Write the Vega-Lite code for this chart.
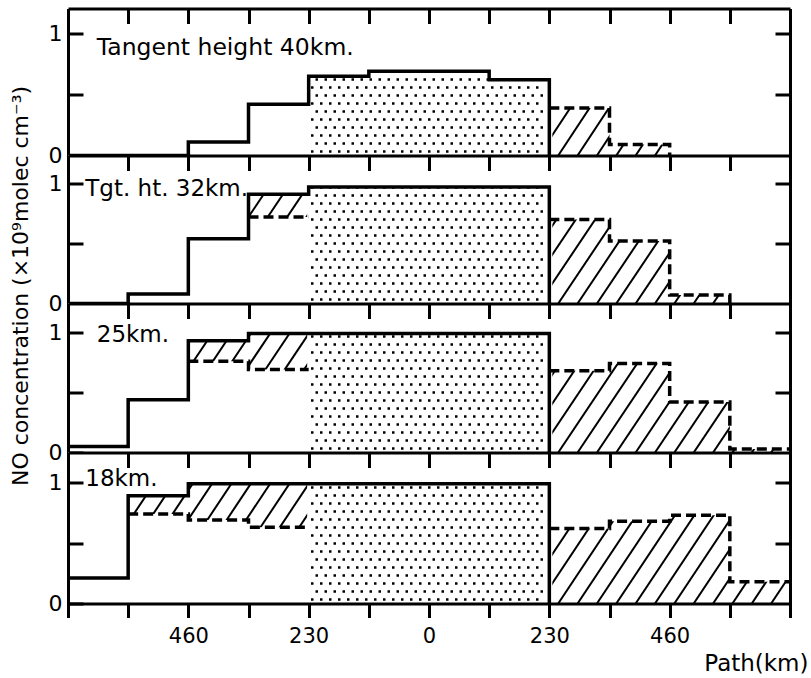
{
  "$schema": "https://vega.github.io/schema/vega-lite/v6.json",
  "autosize": {"type": "pad"},
  "padding": {"left": 9, "top": 6.5, "right": 3, "bottom": 5},
  "background": "white",
  "bounds": "flush",
  "spacing": 0,
  "config": {
    "font": "DejaVu Sans",
    "view": {"stroke": null},
    "axis": {"domainColor": "black", "tickColor": "black", "labelColor": "black", "titleColor": "black", "labelFont": "DejaVu Sans", "titleFont": "DejaVu Sans", "grid": false},
    "text": {"font": "DejaVu Sans"}
  },
  "datasets": {
    "hatch": [
      {"x": -900, "x2": -700}, {"x": -863, "x2": -663}, {"x": -826, "x2": -626}, {"x": -789, "x2": -589},
      {"x": -752, "x2": -552}, {"x": -715, "x2": -515}, {"x": -678, "x2": -478}, {"x": -641, "x2": -441},
      {"x": -604, "x2": -404}, {"x": -567, "x2": -367}, {"x": -530, "x2": -330}, {"x": -493, "x2": -293},
      {"x": -456, "x2": -256}, {"x": -419, "x2": -219}, {"x": -382, "x2": -182}, {"x": -345, "x2": -145},
      {"x": -308, "x2": -108}, {"x": -271, "x2": -71}, {"x": -234, "x2": -34}, {"x": -197, "x2": 3},
      {"x": -160, "x2": 40}, {"x": -123, "x2": 77}, {"x": -86, "x2": 114}, {"x": -49, "x2": 151},
      {"x": -12, "x2": 188}, {"x": 25, "x2": 225}, {"x": 62, "x2": 262}, {"x": 99, "x2": 299},
      {"x": 136, "x2": 336}, {"x": 173, "x2": 373}, {"x": 210, "x2": 410}, {"x": 247, "x2": 447},
      {"x": 284, "x2": 484}, {"x": 321, "x2": 521}, {"x": 358, "x2": 558}, {"x": 395, "x2": 595},
      {"x": 432, "x2": 632}, {"x": 469, "x2": 669}, {"x": 506, "x2": 706}, {"x": 543, "x2": 743},
      {"x": 580, "x2": 780}, {"x": 617, "x2": 817}, {"x": 654, "x2": 854}, {"x": 691, "x2": 891}
    ],
    "lower": [
      {"p": 1, "x": -690, "v": 0}, {"p": 1, "x": -575, "v": 0}, {"p": 1, "x": -460, "v": 0.11}, {"p": 1, "x": -345, "v": 0.42}, {"p": 1, "x": -230, "v": 0.42},
      {"p": 2, "x": -690, "v": 0}, {"p": 2, "x": -575, "v": 0.08}, {"p": 2, "x": -460, "v": 0.54}, {"p": 2, "x": -345, "v": 0.72}, {"p": 2, "x": -230, "v": 0.72},
      {"p": 3, "x": -690, "v": 0.05}, {"p": 3, "x": -575, "v": 0.44}, {"p": 3, "x": -460, "v": 0.76}, {"p": 3, "x": -345, "v": 0.69}, {"p": 3, "x": -230, "v": 0.69},
      {"p": 4, "x": -690, "v": 0.21}, {"p": 4, "x": -575, "v": 0.74}, {"p": 4, "x": -460, "v": 0.69}, {"p": 4, "x": -345, "v": 0.63}, {"p": 4, "x": -230, "v": 0.63}
    ],
    "solid": [
      {"p": 1, "x": -690, "v": 0}, {"p": 1, "x": -575, "v": 0}, {"p": 1, "x": -460, "v": 0.11}, {"p": 1, "x": -345, "v": 0.42}, {"p": 1, "x": -230, "v": 0.65}, {"p": 1, "x": -115, "v": 0.69}, {"p": 1, "x": 115, "v": 0.62}, {"p": 1, "x": 230, "v": 0},
      {"p": 2, "x": -690, "v": 0}, {"p": 2, "x": -575, "v": 0.08}, {"p": 2, "x": -460, "v": 0.54}, {"p": 2, "x": -345, "v": 0.91}, {"p": 2, "x": -230, "v": 0.97}, {"p": 2, "x": 230, "v": 0},
      {"p": 3, "x": -690, "v": 0.05}, {"p": 3, "x": -575, "v": 0.44}, {"p": 3, "x": -460, "v": 0.93}, {"p": 3, "x": -345, "v": 0.99}, {"p": 3, "x": -230, "v": 0.99}, {"p": 3, "x": 230, "v": 0},
      {"p": 4, "x": -690, "v": 0.21}, {"p": 4, "x": -575, "v": 0.89}, {"p": 4, "x": -460, "v": 0.99}, {"p": 4, "x": -345, "v": 0.99}, {"p": 4, "x": -230, "v": 0.99}, {"p": 4, "x": 230, "v": 0}
    ],
    "dash": [
      {"p": 1, "g": "R", "x": 230, "v": 0.39}, {"p": 1, "g": "R", "x": 345, "v": 0.09}, {"p": 1, "g": "R", "x": 460, "v": 0}, {"p": 1, "g": "R", "x": 690, "v": 0},
      {"p": 2, "g": "L", "x": -345, "v": 0.72}, {"p": 2, "g": "L", "x": -230, "v": 0.72},
      {"p": 2, "g": "R", "x": 230, "v": 0.7}, {"p": 2, "g": "R", "x": 345, "v": 0.52}, {"p": 2, "g": "R", "x": 460, "v": 0.07}, {"p": 2, "g": "R", "x": 575, "v": 0}, {"p": 2, "g": "R", "x": 690, "v": 0},
      {"p": 3, "g": "L", "x": -460, "v": 0.76}, {"p": 3, "g": "L", "x": -345, "v": 0.69}, {"p": 3, "g": "L", "x": -230, "v": 0.69},
      {"p": 3, "g": "R", "x": 230, "v": 0.68}, {"p": 3, "g": "R", "x": 345, "v": 0.74}, {"p": 3, "g": "R", "x": 460, "v": 0.42}, {"p": 3, "g": "R", "x": 575, "v": 0.03}, {"p": 3, "g": "R", "x": 690, "v": 0.03},
      {"p": 4, "g": "L", "x": -575, "v": 0.74}, {"p": 4, "g": "L", "x": -460, "v": 0.69}, {"p": 4, "g": "L", "x": -345, "v": 0.63}, {"p": 4, "g": "L", "x": -230, "v": 0.63},
      {"p": 4, "g": "R", "x": 230, "v": 0.62}, {"p": 4, "g": "R", "x": 345, "v": 0.68}, {"p": 4, "g": "R", "x": 460, "v": 0.73}, {"p": 4, "g": "R", "x": 575, "v": 0.18}, {"p": 4, "g": "R", "x": 690, "v": 0.18}
    ]
  },
  "vconcat": [
    {
      "width": 722, "height": 147,
      "resolve": {"axis": {"x": "independent", "y": "independent"}},
      "layer": [
        {"layer": [
          {"data": {"name": "hatch"}, "mark": {"type": "rule", "clip": true, "strokeWidth": 2, "color": "black"},
           "encoding": {
             "x": {"field": "x", "type": "quantitative", "scale": {"domain": [-690, 690], "nice": false, "zero": false},
                   "axis": {"orient": "top", "values": [-690, -575, -460, -345, -230, -115, 0, 115, 230, 345, 460, 575, 690], "labels": false, "tickSize": -15, "tickWidth": 3, "domainWidth": 3, "title": null, "zindex": 1}},
             "x2": {"field": "x2"},
             "y": {"datum": 0, "type": "quantitative", "scale": {"domain": [0, 1.205], "nice": false},
                   "axis": {"orient": "left", "values": [0, 0.5, 1], "tickSize": -15, "tickWidth": 3, "domainWidth": 3, "labelPadding": 21, "labelFontSize": 22, "labelExpr": "datum.value == 0.5 ? '' : format(datum.value, 'd')", "zindex": 1,
                            "title": "NO concentration (×10⁹molec cm⁻³)", "titleFontSize": 22, "titleFontWeight": "normal", "titleX": -48, "titleY": 277, "titleAngle": -90, "titleAlign": "center", "titleBaseline": "middle"}},
             "y2": {"datum": 1.3}}},
          {"data": {"name": "lower"}, "transform": [{"filter": "datum.p == 1"}], "mark": {"type": "area", "interpolate": "step-after", "fill": "white", "opacity": 1, "clip": true},
           "encoding": {"x": {"field": "x", "type": "quantitative"}, "y": {"field": "v", "type": "quantitative"}, "y2": {"datum": 0}}},
          {"data": {"values": [{}]}, "mark": {"type": "rect", "fill": "white", "clip": true},
           "encoding": {"x": {"datum": -230}, "x2": {"datum": 230}, "y": {"datum": 0}, "y2": {"datum": 1.3}}},
          {"data": {"values": [{}]}, "mark": {"type": "point", "shape": "M-118,-4H116M-113.5,-12H116M-118,-20H116M-113.5,-28H116M-118,-36H116M-113.5,-44H116M-118,-52H116M-113.5,-60H116M-118,-68H116M-113.5,-76H116M-118,-84H116M-113.5,-92H116M-118,-100H116M-113.5,-108H116M-118,-116H116M-113.5,-124H116", "size": 4, "filled": false, "stroke": "black", "strokeWidth": 2.5, "strokeDash": [2.5, 6.5], "opacity": 1},
           "encoding": {"x": {"datum": 0}, "y": {"datum": 0}}},
          {"data": {"name": "solid"}, "transform": [{"filter": "datum.p == 1"}], "mark": {"type": "area", "interpolate": "step-after", "fill": "white", "opacity": 1, "clip": true},
           "encoding": {"x": {"field": "x", "type": "quantitative"}, "y": {"field": "v", "type": "quantitative"}, "y2": {"datum": 1.3}}},
          {"data": {"name": "dash"}, "transform": [{"filter": "datum.p == 1 && datum.g == 'R'"}], "mark": {"type": "area", "interpolate": "step-after", "fill": "white", "opacity": 1, "clip": true},
           "encoding": {"x": {"field": "x", "type": "quantitative"}, "y": {"field": "v", "type": "quantitative"}, "y2": {"datum": 1.3}}},
          {"data": {"values": [{}]}, "mark": {"type": "rule", "color": "white", "strokeWidth": 6, "clip": true},
           "encoding": {"x": {"datum": 230}, "y": {"datum": 0}, "y2": {"datum": 1.3}}},
          {"data": {"values": [{}]}, "mark": {"type": "rule", "color": "white", "strokeWidth": 3, "clip": true},
           "encoding": {"x": {"datum": -230}, "y": {"datum": 0}, "y2": {"datum": 1.3}}},
          {"data": {"name": "solid"}, "transform": [{"filter": "datum.p == 1"}], "mark": {"type": "line", "interpolate": "step-after", "color": "black", "strokeWidth": 3.5},
           "encoding": {"x": {"field": "x", "type": "quantitative"}, "y": {"field": "v", "type": "quantitative"}}},
          {"data": {"name": "dash"}, "transform": [{"filter": "datum.p == 1 && !(datum.x == 690 && datum.v == 0)"}], "mark": {"type": "line", "interpolate": "step-after", "color": "black", "strokeWidth": 3.5, "strokeDash": [10, 5]},
           "encoding": {"x": {"field": "x", "type": "quantitative"}, "y": {"field": "v", "type": "quantitative"}, "detail": {"field": "g"}}},
          {"data": {"values": [{"t": "Tangent height 40km."}]}, "mark": {"type": "text", "align": "left", "baseline": "middle", "fontSize": 23.5, "color": "black"},
           "encoding": {"text": {"field": "t"}, "x": {"datum": -635}, "y": {"datum": 0.88}}}
        ]},
        {"data": {"values": [{}]}, "mark": {"type": "point", "opacity": 0},
         "encoding": {"x": {"datum": 0, "type": "quantitative", "axis": null},
                      "y": {"datum": 0, "type": "quantitative", "axis": {"orient": "right", "values": [0.5, 1], "labels": false, "tickSize": -15, "tickWidth": 3, "domainWidth": 3, "title": null, "zindex": 1}}}}
      ]
    },
    {
      "width": 722, "height": 148,
      "resolve": {"axis": {"x": "independent", "y": "independent"}},
      "layer": [
        {"layer": [
          {"data": {"name": "hatch"}, "mark": {"type": "rule", "clip": true, "strokeWidth": 2, "color": "black"},
           "encoding": {
             "x": {"field": "x", "type": "quantitative", "scale": {"domain": [-690, 690], "nice": false, "zero": false},
                   "axis": {"orient": "top", "values": [-690, -575, -460, -345, -230, -115, 0, 115, 230, 345, 460, 575, 690], "labels": false, "tickSize": -15, "tickWidth": 3, "domainWidth": 3, "title": null, "zindex": 1}},
             "x2": {"field": "x2"},
             "y": {"datum": 0, "type": "quantitative", "scale": {"domain": [0, 1.233], "nice": false},
                   "axis": {"orient": "left", "values": [0, 0.5, 1], "tickSize": -15, "tickWidth": 3, "domainWidth": 3, "labelPadding": 21, "labelFontSize": 22, "labelExpr": "datum.value == 0.5 ? '' : format(datum.value, 'd')", "zindex": 1, "title": null}},
             "y2": {"datum": 1.3}}},
          {"data": {"name": "lower"}, "transform": [{"filter": "datum.p == 2"}], "mark": {"type": "area", "interpolate": "step-after", "fill": "white", "opacity": 1, "clip": true},
           "encoding": {"x": {"field": "x", "type": "quantitative"}, "y": {"field": "v", "type": "quantitative"}, "y2": {"datum": 0}}},
          {"data": {"values": [{}]}, "mark": {"type": "rect", "fill": "white", "clip": true},
           "encoding": {"x": {"datum": -230}, "x2": {"datum": 230}, "y": {"datum": 0}, "y2": {"datum": 1.3}}},
          {"data": {"values": [{}]}, "mark": {"type": "point", "shape": "M-118,-4H116M-113.5,-12H116M-118,-20H116M-113.5,-28H116M-118,-36H116M-113.5,-44H116M-118,-52H116M-113.5,-60H116M-118,-68H116M-113.5,-76H116M-118,-84H116M-113.5,-92H116M-118,-100H116M-113.5,-108H116M-118,-116H116M-113.5,-124H116", "size": 4, "filled": false, "stroke": "black", "strokeWidth": 2.5, "strokeDash": [2.5, 6.5], "opacity": 1},
           "encoding": {"x": {"datum": 0}, "y": {"datum": 0}}},
          {"data": {"name": "solid"}, "transform": [{"filter": "datum.p == 2"}], "mark": {"type": "area", "interpolate": "step-after", "fill": "white", "opacity": 1, "clip": true},
           "encoding": {"x": {"field": "x", "type": "quantitative"}, "y": {"field": "v", "type": "quantitative"}, "y2": {"datum": 1.3}}},
          {"data": {"name": "dash"}, "transform": [{"filter": "datum.p == 2 && datum.g == 'R'"}], "mark": {"type": "area", "interpolate": "step-after", "fill": "white", "opacity": 1, "clip": true},
           "encoding": {"x": {"field": "x", "type": "quantitative"}, "y": {"field": "v", "type": "quantitative"}, "y2": {"datum": 1.3}}},
          {"data": {"values": [{}]}, "mark": {"type": "rule", "color": "white", "strokeWidth": 6, "clip": true},
           "encoding": {"x": {"datum": 230}, "y": {"datum": 0}, "y2": {"datum": 1.3}}},
          {"data": {"values": [{}]}, "mark": {"type": "rule", "color": "white", "strokeWidth": 3, "clip": true},
           "encoding": {"x": {"datum": -230}, "y": {"datum": 0}, "y2": {"datum": 1.3}}},
          {"data": {"name": "solid"}, "transform": [{"filter": "datum.p == 2"}], "mark": {"type": "line", "interpolate": "step-after", "color": "black", "strokeWidth": 3.5},
           "encoding": {"x": {"field": "x", "type": "quantitative"}, "y": {"field": "v", "type": "quantitative"}}},
          {"data": {"name": "dash"}, "transform": [{"filter": "datum.p == 2 && !(datum.x == 690 && datum.v == 0)"}], "mark": {"type": "line", "interpolate": "step-after", "color": "black", "strokeWidth": 3.5, "strokeDash": [10, 5]},
           "encoding": {"x": {"field": "x", "type": "quantitative"}, "y": {"field": "v", "type": "quantitative"}, "detail": {"field": "g"}}},
          {"data": {"values": [{"t": "Tgt. ht. 32km."}]}, "mark": {"type": "text", "align": "left", "baseline": "middle", "fontSize": 23, "color": "black"},
           "encoding": {"text": {"field": "t"}, "x": {"datum": -657}, "y": {"datum": 0.95}}}
        ]},
        {"data": {"values": [{}]}, "mark": {"type": "point", "opacity": 0},
         "encoding": {"x": {"datum": 0, "type": "quantitative", "axis": null},
                      "y": {"datum": 0, "type": "quantitative", "axis": {"orient": "right", "values": [0.5, 1], "labels": false, "tickSize": -15, "tickWidth": 3, "domainWidth": 3, "title": null, "zindex": 1}}}}
      ]
    },
    {
      "width": 722, "height": 149,
      "resolve": {"axis": {"x": "independent", "y": "independent"}},
      "layer": [
        {"layer": [
          {"data": {"name": "hatch"}, "mark": {"type": "rule", "clip": true, "strokeWidth": 2, "color": "black"},
           "encoding": {
             "x": {"field": "x", "type": "quantitative", "scale": {"domain": [-690, 690], "nice": false, "zero": false},
                   "axis": {"orient": "top", "values": [-690, -575, -460, -345, -230, -115, 0, 115, 230, 345, 460, 575, 690], "labels": false, "tickSize": -15, "tickWidth": 3, "domainWidth": 3, "title": null, "zindex": 1}},
             "x2": {"field": "x2"},
             "y": {"datum": 0, "type": "quantitative", "scale": {"domain": [0, 1.24], "nice": false},
                   "axis": {"orient": "left", "values": [0, 0.5, 1], "tickSize": -15, "tickWidth": 3, "domainWidth": 3, "labelPadding": 21, "labelFontSize": 22, "labelExpr": "datum.value == 0.5 ? '' : format(datum.value, 'd')", "zindex": 1, "title": null}},
             "y2": {"datum": 1.3}}},
          {"data": {"name": "lower"}, "transform": [{"filter": "datum.p == 3"}], "mark": {"type": "area", "interpolate": "step-after", "fill": "white", "opacity": 1, "clip": true},
           "encoding": {"x": {"field": "x", "type": "quantitative"}, "y": {"field": "v", "type": "quantitative"}, "y2": {"datum": 0}}},
          {"data": {"values": [{}]}, "mark": {"type": "rect", "fill": "white", "clip": true},
           "encoding": {"x": {"datum": -230}, "x2": {"datum": 230}, "y": {"datum": 0}, "y2": {"datum": 1.3}}},
          {"data": {"values": [{}]}, "mark": {"type": "point", "shape": "M-118,-4H116M-113.5,-12H116M-118,-20H116M-113.5,-28H116M-118,-36H116M-113.5,-44H116M-118,-52H116M-113.5,-60H116M-118,-68H116M-113.5,-76H116M-118,-84H116M-113.5,-92H116M-118,-100H116M-113.5,-108H116M-118,-116H116M-113.5,-124H116", "size": 4, "filled": false, "stroke": "black", "strokeWidth": 2.5, "strokeDash": [2.5, 6.5], "opacity": 1},
           "encoding": {"x": {"datum": 0}, "y": {"datum": 0}}},
          {"data": {"name": "solid"}, "transform": [{"filter": "datum.p == 3"}], "mark": {"type": "area", "interpolate": "step-after", "fill": "white", "opacity": 1, "clip": true},
           "encoding": {"x": {"field": "x", "type": "quantitative"}, "y": {"field": "v", "type": "quantitative"}, "y2": {"datum": 1.3}}},
          {"data": {"name": "dash"}, "transform": [{"filter": "datum.p == 3 && datum.g == 'R'"}], "mark": {"type": "area", "interpolate": "step-after", "fill": "white", "opacity": 1, "clip": true},
           "encoding": {"x": {"field": "x", "type": "quantitative"}, "y": {"field": "v", "type": "quantitative"}, "y2": {"datum": 1.3}}},
          {"data": {"values": [{}]}, "mark": {"type": "rule", "color": "white", "strokeWidth": 6, "clip": true},
           "encoding": {"x": {"datum": 230}, "y": {"datum": 0}, "y2": {"datum": 1.3}}},
          {"data": {"values": [{}]}, "mark": {"type": "rule", "color": "white", "strokeWidth": 3, "clip": true},
           "encoding": {"x": {"datum": -230}, "y": {"datum": 0}, "y2": {"datum": 1.3}}},
          {"data": {"name": "solid"}, "transform": [{"filter": "datum.p == 3"}], "mark": {"type": "line", "interpolate": "step-after", "color": "black", "strokeWidth": 3.5},
           "encoding": {"x": {"field": "x", "type": "quantitative"}, "y": {"field": "v", "type": "quantitative"}}},
          {"data": {"name": "dash"}, "transform": [{"filter": "datum.p == 3 && !(datum.x == 690 && datum.v == 0)"}], "mark": {"type": "line", "interpolate": "step-after", "color": "black", "strokeWidth": 3.5, "strokeDash": [10, 5]},
           "encoding": {"x": {"field": "x", "type": "quantitative"}, "y": {"field": "v", "type": "quantitative"}, "detail": {"field": "g"}}},
          {"data": {"values": [{"t": "25km."}]}, "mark": {"type": "text", "align": "left", "baseline": "middle", "fontSize": 23, "color": "black"},
           "encoding": {"text": {"field": "t"}, "x": {"datum": -635}, "y": {"datum": 0.98}}}
        ]},
        {"data": {"values": [{}]}, "mark": {"type": "point", "opacity": 0},
         "encoding": {"x": {"datum": 0, "type": "quantitative", "axis": null},
                      "y": {"datum": 0, "type": "quantitative", "axis": {"orient": "right", "values": [0.5, 1], "labels": false, "tickSize": -15, "tickWidth": 3, "domainWidth": 3, "title": null, "zindex": 1}}}}
      ]
    },
    {
      "width": 722, "height": 151,
      "resolve": {"axis": {"x": "independent", "y": "independent"}},
      "layer": [
        {"layer": [
          {"data": {"name": "hatch"}, "mark": {"type": "rule", "clip": true, "strokeWidth": 2, "color": "black"},
           "encoding": {
             "x": {"field": "x", "type": "quantitative", "scale": {"domain": [-690, 690], "nice": false, "zero": false},
                   "axis": {"orient": "top", "values": [-690, -575, -460, -345, -230, -115, 0, 115, 230, 345, 460, 575, 690], "labels": false, "tickSize": -15, "tickWidth": 3, "domainWidth": 3, "title": null, "zindex": 1}},
             "x2": {"field": "x2"},
             "y": {"datum": 0, "type": "quantitative", "scale": {"domain": [0, 1.248], "nice": false},
                   "axis": {"orient": "left", "values": [0, 0.5, 1], "tickSize": -15, "tickWidth": 3, "domainWidth": 3, "labelPadding": 21, "labelFontSize": 22, "labelExpr": "datum.value == 0.5 ? '' : format(datum.value, 'd')", "zindex": 1, "title": null}},
             "y2": {"datum": 1.3}}},
          {"data": {"name": "lower"}, "transform": [{"filter": "datum.p == 4"}], "mark": {"type": "area", "interpolate": "step-after", "fill": "white", "opacity": 1, "clip": true},
           "encoding": {"x": {"field": "x", "type": "quantitative"}, "y": {"field": "v", "type": "quantitative"}, "y2": {"datum": 0}}},
          {"data": {"values": [{}]}, "mark": {"type": "rect", "fill": "white", "clip": true},
           "encoding": {"x": {"datum": -230}, "x2": {"datum": 230}, "y": {"datum": 0}, "y2": {"datum": 1.3}}},
          {"data": {"values": [{}]}, "mark": {"type": "point", "shape": "M-118,-4H116M-113.5,-12H116M-118,-20H116M-113.5,-28H116M-118,-36H116M-113.5,-44H116M-118,-52H116M-113.5,-60H116M-118,-68H116M-113.5,-76H116M-118,-84H116M-113.5,-92H116M-118,-100H116M-113.5,-108H116M-118,-116H116M-113.5,-124H116", "size": 4, "filled": false, "stroke": "black", "strokeWidth": 2.5, "strokeDash": [2.5, 6.5], "opacity": 1},
           "encoding": {"x": {"datum": 0}, "y": {"datum": 0}}},
          {"data": {"name": "solid"}, "transform": [{"filter": "datum.p == 4"}], "mark": {"type": "area", "interpolate": "step-after", "fill": "white", "opacity": 1, "clip": true},
           "encoding": {"x": {"field": "x", "type": "quantitative"}, "y": {"field": "v", "type": "quantitative"}, "y2": {"datum": 1.3}}},
          {"data": {"name": "dash"}, "transform": [{"filter": "datum.p == 4 && datum.g == 'R'"}], "mark": {"type": "area", "interpolate": "step-after", "fill": "white", "opacity": 1, "clip": true},
           "encoding": {"x": {"field": "x", "type": "quantitative"}, "y": {"field": "v", "type": "quantitative"}, "y2": {"datum": 1.3}}},
          {"data": {"values": [{}]}, "mark": {"type": "rule", "color": "white", "strokeWidth": 6, "clip": true},
           "encoding": {"x": {"datum": 230}, "y": {"datum": 0}, "y2": {"datum": 1.3}}},
          {"data": {"values": [{}]}, "mark": {"type": "rule", "color": "white", "strokeWidth": 3, "clip": true},
           "encoding": {"x": {"datum": -230}, "y": {"datum": 0}, "y2": {"datum": 1.3}}},
          {"data": {"name": "solid"}, "transform": [{"filter": "datum.p == 4"}], "mark": {"type": "line", "interpolate": "step-after", "color": "black", "strokeWidth": 3.5},
           "encoding": {"x": {"field": "x", "type": "quantitative"}, "y": {"field": "v", "type": "quantitative"}}},
          {"data": {"name": "dash"}, "transform": [{"filter": "datum.p == 4 && !(datum.x == 690 && datum.v == 0)"}], "mark": {"type": "line", "interpolate": "step-after", "color": "black", "strokeWidth": 3.5, "strokeDash": [10, 5]},
           "encoding": {"x": {"field": "x", "type": "quantitative"}, "y": {"field": "v", "type": "quantitative"}, "detail": {"field": "g"}}},
          {"data": {"values": [{"t": "18km."}]}, "mark": {"type": "text", "align": "left", "baseline": "middle", "fontSize": 23, "color": "black"},
           "encoding": {"text": {"field": "t"}, "x": {"datum": -657}, "y": {"datum": 1.03}}}
        ]},
        {"data": {"values": [{}]}, "mark": {"type": "point", "opacity": 0},
         "encoding": {"x": {"datum": 0, "type": "quantitative",
                            "axis": {"orient": "bottom", "values": [-690, -575, -460, -345, -230, -115, 0, 115, 230, 345, 460, 575, 690], "tickSize": 14, "tickWidth": 3, "domainWidth": 3, "labelFontSize": 21, "labelPadding": 8, "labelOverlap": false, "labelFlush": false,
                                     "labelExpr": "abs(datum.value) % 230 == 0 && abs(datum.value) < 690 ? format(abs(datum.value), 'd') : ''",
                                     "title": "Path(km)", "titleFontSize": 23, "titleFontWeight": "normal", "titleAlign": "right", "titleX": 740, "titleY": 67, "titleBaseline": "alphabetic", "zindex": 1}},
                      "y": {"datum": 0, "type": "quantitative", "axis": {"orient": "right", "values": [0.5, 1], "labels": false, "tickSize": -15, "tickWidth": 3, "domainWidth": 3, "title": null, "zindex": 1}}}}
      ]
    }
  ]
}
